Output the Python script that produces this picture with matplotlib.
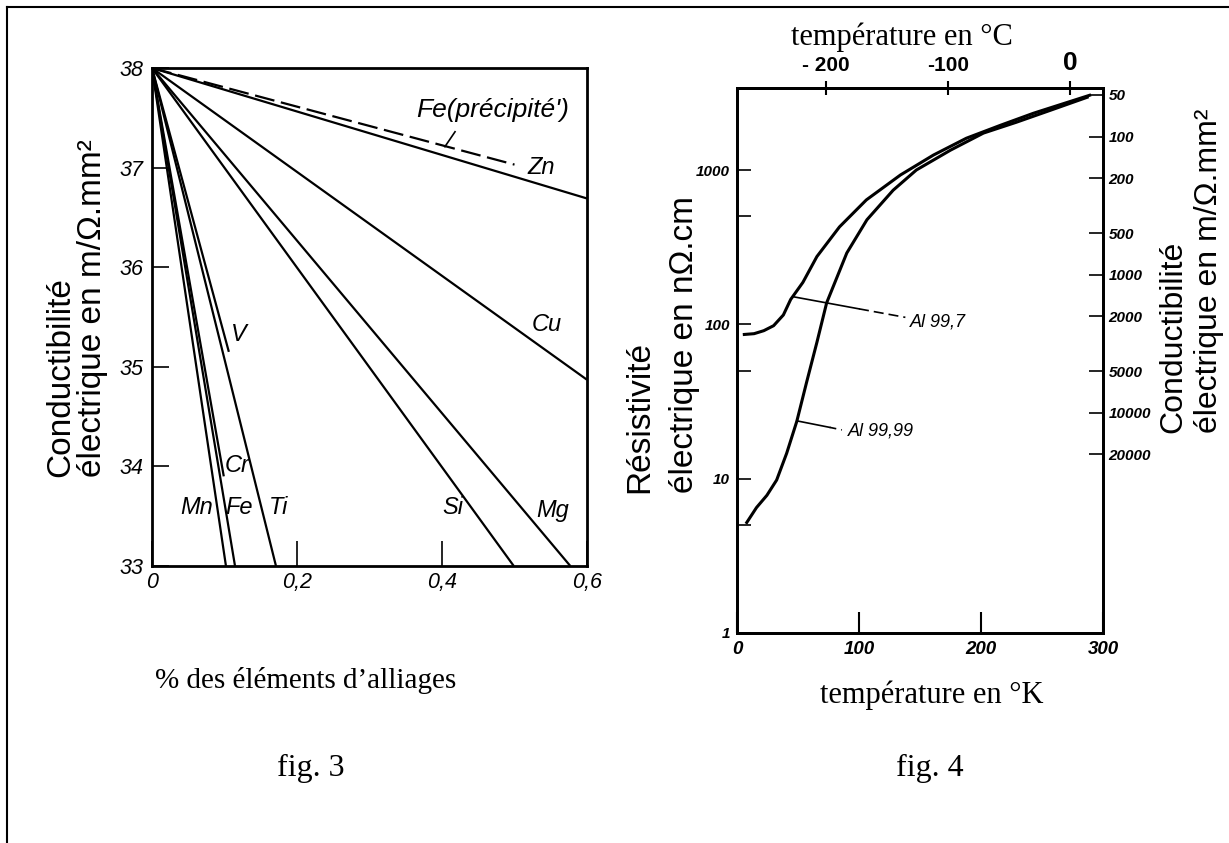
import matplotlib
matplotlib.use('Agg')
import matplotlib.pyplot as plt
from matplotlib.lines import Line2D
from matplotlib.ticker import NullLocator

W, H = 1229, 843

# fig. 3 : conductivity of Al against alloying additions (all lines start at 38)
elements = ['Zn', 'Cu', 'Mg', 'Si', 'V', 'Ti', 'Cr', 'Fe', 'Mn']
pct_end = [0.6, 0.6, 0.577, 0.499, 0.106, 0.171, 0.099, 0.1145, 0.102]
cond_end = [36.69, 34.87, 33.0, 33.0, 35.15, 33.0, 33.9, 33.0, 33.0]
cond_base = 38.0
fe_prec_pct = [0.0, 0.5]
fe_prec_cond = [38.0, 37.03]

# fig. 4 : resistivity (nOhm.cm) against temperature (K)
temp_997 = [6, 14, 22, 30, 38, 44, 54, 65.5, 84, 106, 134, 161, 188, 216, 243, 289]
rho_997 = [86, 87, 91, 98, 115, 145, 187, 275, 428, 640, 929, 1250, 1607, 1950, 2333, 3050]
temp_9999 = [8, 16, 24.5, 32.5, 40.7, 49, 57, 65.5, 73.5, 90, 106.5, 128, 147, 175, 202,
             229, 257, 287]
rho_9999 = [5.2, 6.5, 7.8, 9.8, 14.6, 23.5, 42, 76.5, 138, 290, 476, 740, 1000, 1345, 1735,
            2040, 2440, 2960]
cond_ticks = [50, 100, 200, 500, 1000, 2000, 5000, 10000, 20000]

SERIF = ['Liberation Serif', 'DejaVu Serif']
SANS = ['Liberation Sans', 'DejaVu Sans']


def box(left, top, right, bottom):
    return [left / W, 1 - bottom / H, (right - left) / W, (bottom - top) / H]


def fx(px):
    return px / W


def fy(py):
    return 1 - py / H


def style_ticks(labels, size, weight='normal'):
    for lab in labels:
        lab.set_family(SANS)
        lab.set_style('italic')
        lab.set_weight(weight)
        lab.set_fontsize(size)


fig = plt.figure(figsize=(W / 100, H / 100), dpi=100)
fig.patch.set_facecolor('white')

# page frame
fig.add_artist(Line2D([fx(7), fx(7)], [0, fy(7)], color='black', lw=1.5,
                      transform=fig.transFigure))
fig.add_artist(Line2D([fx(7), 1], [fy(7), fy(7)], color='black', lw=1.5,
                      transform=fig.transFigure))

# ---------------- fig. 3 ----------------
ax1 = fig.add_axes(box(152, 68, 587, 566))
for p, c in zip(pct_end, cond_end):
    ax1.plot([0, p], [cond_base, c], color='black', lw=1.6, solid_capstyle='butt')
ax1.plot(fe_prec_pct, fe_prec_cond, color='black', lw=1.6, ls=(0, (9, 3)))
ax1.plot([0.418, 0.404], [37.36, 37.21], color='black', lw=1.2)

ax1.set_xlim(0, 0.6)
ax1.set_ylim(33, 38)
ax1.set_xticks([0, 0.2, 0.4, 0.6], labels=['0', '0,2', '0,4', '0,6'])
ax1.set_yticks([33, 34, 35, 36, 37, 38], labels=['33', '34', '35', '36', '37', '38'])
ax1.tick_params(axis='x', direction='in', length=18, width=1.2, pad=4)
ax1.tick_params(axis='y', direction='in', length=12, width=1.2, pad=6)
style_ticks(ax1.get_xticklabels() + ax1.get_yticklabels(), 15.5)
for s in ax1.spines.values():
    s.set_linewidth(2)

hand = dict(family=SANS, style='italic', fontsize=17, color='black',
            ha='center', va='center')
ax1.text(0.47, 37.58, "Fe(précipité')", **dict(hand, fontsize=19))
ax1.text(0.537, 37.0, 'Zn', **hand)
ax1.text(0.545, 35.42, 'Cu', **hand)
ax1.text(0.12, 35.32, 'V', **hand)
ax1.text(0.117, 34.01, 'Cr', **hand)
ax1.text(0.062, 33.59, 'Mn', **hand)
ax1.text(0.12, 33.59, 'Fe', **hand)
ax1.text(0.174, 33.59, 'Ti', **hand)
ax1.text(0.415, 33.59, 'Si', **hand)
ax1.text(0.552, 33.56, 'Mg', **hand)

fig.text(fx(77), fy(477), 'Conductibilité\nélectrique en m/Ω.mm²', rotation=90,
         rotation_mode='anchor', ha='left', va='center', multialignment='left',
         family=SANS, fontsize=24, linespacing=1.04)
fig.text(fx(306), fy(680), '% des éléments d’alliages', ha='center', va='center',
         family=SERIF, fontsize=21)
fig.text(fx(311), fy(768), 'fig. 3', ha='center', va='center', family=SERIF, fontsize=23)

# ---------------- fig. 4 ----------------
ax2 = fig.add_axes(box(737, 88, 1103, 633))
ax2.plot(temp_997, rho_997, color='black', lw=2.2)
ax2.plot(temp_9999, rho_9999, color='black', lw=2.2)

# leader lines to the curve names
ax2.plot([46, 100], [151, 126], color='black', lw=1.2)
ax2.plot([100, 138], [126, 111], color='black', lw=1.2, ls=(0, (6, 3)))
ax2.plot([49, 76], [23.7, 21.5], color='black', lw=1.2)
ax2.plot([76, 86], [21.5, 20.7], color='black', lw=1.2, ls=(0, (4, 3)))
ax2.text(142, 103, 'Al 99,7', family=SANS, style='italic', fontsize=13,
         ha='left', va='center')
ax2.text(91, 20.4, 'Al 99,99', family=SANS, style='italic', fontsize=13,
         ha='left', va='center')

ax2.set_xlim(0, 300)
ax2.set_yscale('log')
ax2.set_ylim(1, 3400)
ax2.set_xticks([0, 100, 200, 300], labels=['0', '100', '200', '300'])
ax2.set_yticks([1, 10, 100, 1000], labels=['1', '10', '100', '1000'])
ax2.set_yticks([5, 50, 500], minor=True)
ax2.yaxis.set_minor_formatter(plt.NullFormatter())
ax2.tick_params(axis='x', direction='in', length=15, width=1.5, pad=6)
ax2.tick_params(axis='y', which='both', direction='in', length=10, width=1.2, pad=5)
style_ticks(ax2.get_xticklabels(), 13.5, 'bold')
style_ticks(ax2.get_yticklabels(), 11, 'bold')
for s in ax2.spines.values():
    s.set_linewidth(2)

# Celsius scale on top
top = ax2.secondary_xaxis('top', functions=(lambda k: k - 273, lambda c: c + 273))
top.set_xticks([-200, -100, 0], labels=['- 200', '-100', '0'])
top.tick_params(direction='inout', length=10, width=1.5, pad=4)
for lab in top.get_xticklabels():
    lab.set_family(SANS)
    lab.set_weight('bold')
    lab.set_fontsize(15)
top.get_xticklabels()[-1].set_fontsize(19)
top.spines['top'].set_linewidth(2)

# conductivity scale on the right (reversed log)
axr = ax2.twinx()
axr.set_yscale('log')
axr.set_ylim(3.95e5, 44.5)
axr.set_yticks(cond_ticks, labels=[str(v) for v in cond_ticks])
axr.yaxis.set_minor_locator(NullLocator())
axr.tick_params(axis='y', direction='in', length=10, width=1.2, pad=4)
style_ticks(axr.get_yticklabels(), 11, 'bold')
for s in axr.spines.values():
    s.set_linewidth(2)

fig.text(fx(902), fy(37), 'température en °C', ha='center', va='center',
         family=SERIF, fontsize=22)
fig.text(fx(932), fy(695), 'température en °K', ha='center', va='center',
         family=SERIF, fontsize=22)
fig.text(fx(662), fy(493), 'Résistivité\nélectrique en nΩ.cm', rotation=90,
         rotation_mode='anchor', ha='left', va='center', multialignment='left',
         family=SANS, fontsize=24, linespacing=1.55)
fig.text(fx(1191), fy(433), 'Conductibilité\nélectrique en m/Ω.mm²', rotation=90,
         rotation_mode='anchor', ha='left', va='center', multialignment='left',
         family=SANS, fontsize=23, linespacing=1.25)
fig.text(fx(930), fy(768), 'fig. 4', ha='center', va='center', family=SERIF, fontsize=23)

fig.savefig('out.png', dpi=100)
